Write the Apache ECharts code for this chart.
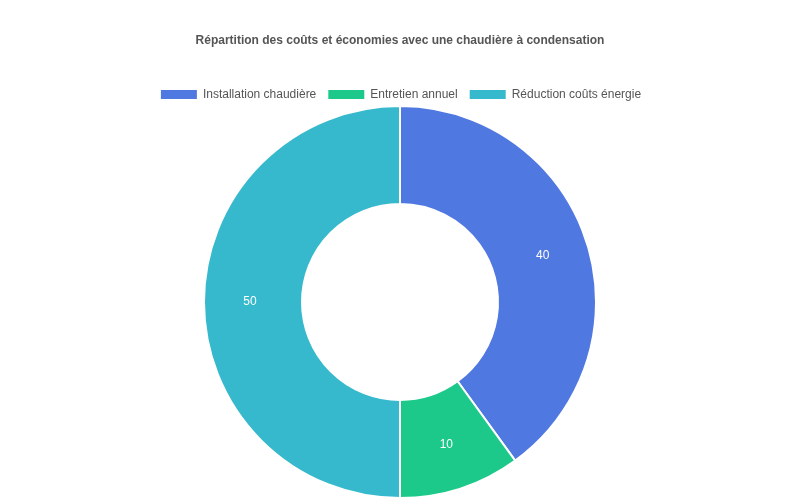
<!DOCTYPE html>
<html><head><meta charset="utf-8">
<script src="https://cdn.jsdelivr.net/npm/echarts@6/dist/echarts.min.js"></script>
<style>html,body{margin:0;padding:0;background:#fff}#c{width:800px;height:500px}</style>
</head><body><div id="c"></div>
<script>
const categories = ["Installation chaudière", "Entretien annuel", "Réduction coûts énergie"];
const values = [40, 10, 50];
const colors = ["#5078E1", "#1DC98A", "#36B9CC"];
const chart = echarts.init(document.getElementById('c'));
chart.setOption({
  animation: false,
  title: { text: "Répartition des coûts et économies avec une chaudière à condensation", left: 'center', top: 30,
    textStyle: { fontFamily: 'Liberation Sans, Arial', fontSize: 12, fontWeight: 'bold', color: '#555' } },
  legend: { top: 83, left: 'center', itemWidth: 38, itemHeight: 11, itemGap: 10, icon: 'rect',
    textStyle: { fontFamily: 'Liberation Sans, Arial', fontSize: 12, color: '#555' }, data: categories },
  color: colors,
  series: [{
    type: 'pie', center: [400, 302], radius: [98, 196], startAngle: 90, clockwise: true,
    itemStyle: { borderColor: '#fff', borderWidth: 2 },
    label: { position: 'inside', formatter: '{c}', color: '#fff', fontSize: 12, fontFamily: 'Liberation Sans, Arial' },
    labelLine: { show: false },
    data: categories.map((n, i) => ({ name: n, value: values[i] }))
  }]
});
</script></body></html>
